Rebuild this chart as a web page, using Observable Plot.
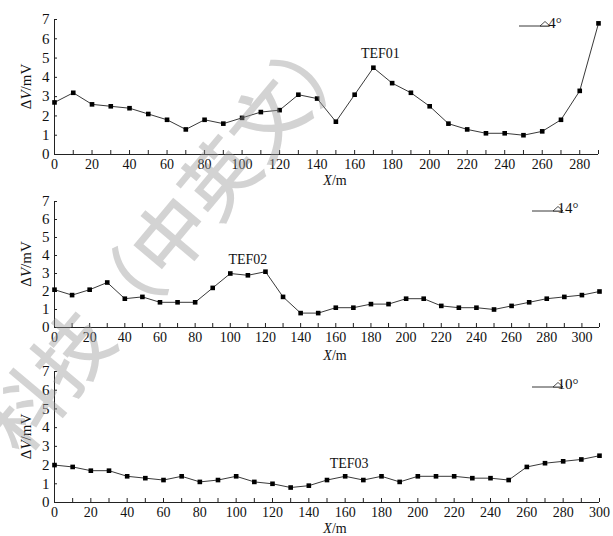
<!DOCTYPE html>
<html>
<head>
<meta charset="utf-8">
<script src="https://cdn.jsdelivr.net/npm/d3@7"></script>
<script src="https://cdn.jsdelivr.net/npm/@observablehq/plot@0.6"></script>
<style>
  html, body { margin: 0; padding: 0; background: #fff; }
  #wrap { position: relative; width: 613px; height: 536px; overflow: hidden; background: #fff; }
  .panel { position: absolute; left: 0; font-family: "Liberation Serif", serif !important; }
  .panel text { font-family: "Liberation Serif", serif; }
  #wm {
    position: absolute; left: -103px; top: 193px; width: 540px; height: 80px;
    text-align: center; white-space: nowrap; line-height: 80px;
    font-family: "Noto Sans CJK SC", sans-serif; font-size: 76px; font-weight: 500;
    color: rgba(150,150,150,0.42); transform: rotate(-50deg); transform-origin: 50% 50%;
    pointer-events: none; z-index: 10;
  }
</style>
</head>
<body>
<div id="wrap"><div id="wm">科技（中英文）</div></div>
<script>
// ---- data ----
const x1 = [0,10,20,30,40,50,60,70,80,90,100,110,120,130,140,150,160,170,180,190,200,210,220,230,240,250,260,270,280,290];
const v1 = [2.7,3.2,2.6,2.5,2.4,2.1,1.8,1.3,1.8,1.6,1.9,2.2,2.3,3.1,2.9,1.7,3.1,4.5,3.7,3.2,2.5,1.6,1.3,1.1,1.1,1.0,1.2,1.8,3.3,6.8];
const x2 = [0,10,20,30,40,50,60,70,80,90,100,110,120,130,140,150,160,170,180,190,200,210,220,230,240,250,260,270,280,290,300,310];
const v2 = [2.1,1.8,2.1,2.5,1.6,1.7,1.4,1.4,1.4,2.2,3.0,2.9,3.1,1.7,0.8,0.8,1.1,1.1,1.3,1.3,1.6,1.6,1.2,1.1,1.1,1.0,1.2,1.4,1.6,1.7,1.8,2.0];
const x3 = [0,10,20,30,40,50,60,70,80,90,100,110,120,130,140,150,160,170,180,190,200,210,220,230,240,250,260,270,280,290,300];
const v3 = [2.0,1.9,1.7,1.7,1.4,1.3,1.2,1.4,1.1,1.2,1.4,1.1,1.0,0.8,0.9,1.2,1.4,1.2,1.4,1.1,1.4,1.4,1.4,1.3,1.3,1.2,1.9,2.1,2.2,2.3,2.5];

const yTicks = [0,1,2,3,4,5,6,7];
const xLabels1 = [0,20,40,60,80,100,120,140,160,180,200,220,240,260,280];
const xLabels2 = [0,20,40,60,80,100,120,140,160,180,200,220,240,260,280,300];
const xLabels3 = [0,20,40,60,80,100,120,140,160,180,200,220,240,260,280,300];

const tagNames = ["TEF01","TEF02","TEF03"];
const tagX = [170, 110, 160];
const tagY = [4.5, 3.0, 1.4];
const legendNames = ["4°","14°","10°"];
const yLabel = ["Δ","V","/mV"];
const xLabel = ["X","/m"];

const FONT = "Liberation Serif";
const wrap = document.getElementById("wrap");

function panel(cfg) {
  const data = cfg.xs.map((x, i) => ({x, y: cfg.ys[i]}));
  const tag = [{x: tagX[cfg.i], y: tagY[cfg.i], t: tagNames[cfg.i]}];
  const p = Plot.plot({
    width: 613, height: cfg.height,
    marginTop: cfg.mt, marginBottom: cfg.mb, marginLeft: 54, marginRight: cfg.mr,
    style: {fontFamily: FONT, fontSize: "14px", overflow: "visible", background: "transparent", color: "#111"},
    x: {domain: [0, cfg.xs[cfg.xs.length - 1]]},
    y: {domain: [0, 7]},
    marks: [
      Plot.ruleX([0], {stroke: "#222", strokeWidth: 1}),
      Plot.ruleY([0], {stroke: "#222", strokeWidth: 1}),
      Plot.axisX({ticks: cfg.xs, tickSize: -4, tickFormat: () => "", label: null, stroke: "#222"}),
      Plot.axisX({ticks: cfg.xl, tickSize: 0, tickPadding: 5, tickFormat: d => String(d), label: null, fill: "#111", fontSize: 14}),
      Plot.axisY({ticks: yTicks, tickSize: -3, tickFormat: () => "", label: null, stroke: "#222"}),
      Plot.axisY({ticks: yTicks, tickSize: 0, tickPadding: 5, tickFormat: d => String(d), label: null, fill: "#111", fontSize: 15}),
      Plot.line(data, {x: "x", y: "y", stroke: "#222", strokeWidth: 0.9}),
      Plot.dot(data, {x: "x", y: "y", symbol: "square", fill: "#000", r: 2.6}),
      Plot.text(tag, {x: "x", y: "y", text: "t", dx: cfg.tdx, dy: cfg.tdy, fontSize: 14, fill: "#111"})
    ]
  });
  p.classList.add("panel");
  p.style.top = cfg.top + "px";
  const svg = d3.select(p);
  const cy = (cfg.mt + cfg.height - cfg.mb) / 2;
  // y label
  const yl = svg.append("text")
    .attr("transform", `translate(28,${cy}) rotate(-90)`)
    .attr("text-anchor", "middle").attr("dominant-baseline", "middle")
    .attr("font-size", 15).attr("fill", "#111").attr("font-family", FONT);
  yl.append("tspan").text(yLabel[0]);
  yl.append("tspan").attr("font-style", "italic").text(yLabel[1]);
  yl.append("tspan").text(yLabel[2]);
  // x label
  const xl = svg.append("text")
    .attr("x", 335).attr("y", cfg.xly)
    .attr("text-anchor", "middle").attr("dominant-baseline", "middle")
    .attr("font-size", 14).attr("fill", "#111").attr("font-family", FONT);
  xl.append("tspan").attr("font-style", "italic").text(xLabel[0]);
  xl.append("tspan").text(xLabel[1]);
  // legend glyph
  const lx = cfg.lx, ly = cfg.ly;
  svg.append("path")
    .attr("d", `M${lx},${ly}H${lx + 30}`)
    .attr("stroke", "#222").attr("stroke-width", 0.9).attr("fill", "none");
  svg.append("path")
    .attr("d", `M${lx + 21},${ly}L${lx + 26},${ly - 4.5}L${lx + 31},${ly}Z`)
    .attr("stroke", "#222").attr("stroke-width", 0.8).attr("fill", "#fff");
  svg.append("text")
    .attr("x", lx + 36).attr("y", ly - 1)
    .attr("dominant-baseline", "middle")
    .attr("font-size", 15).attr("fill", "#111").attr("font-family", FONT)
    .text(legendNames[cfg.i]);
  wrap.insertBefore(p, document.getElementById("wm"));
}

panel({i: 0, xs: x1, ys: v1, xl: xLabels1, top: 0, height: 190, mt: 19, mb: 36, mr: 15, tdx: 7, tdy: -14, xly: 182, lx: 519, ly: 26});
panel({i: 1, xs: x2, ys: v2, xl: xLabels2, top: 190, height: 175, mt: 11, mb: 38, mr: 14, tdx: 0, tdy: -14, xly: 167, lx: 532, ly: 21});
panel({i: 2, xs: x3, ys: v3, xl: xLabels3, top: 365, height: 171, mt: 6, mb: 34, mr: 14, tdx: 4, tdy: -13, xly: 165, lx: 532, ly: 22});
</script>
</body>
</html>
